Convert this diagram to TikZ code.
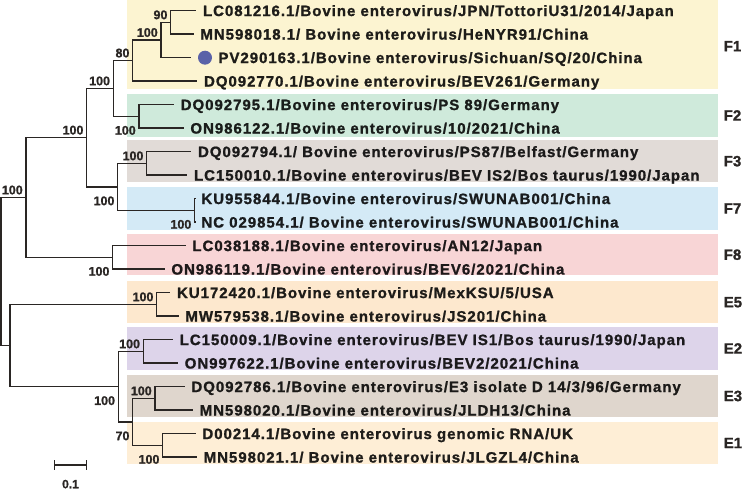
\documentclass[tikz,border=0pt]{standalone}
\usepackage{fontspec}
\setmainfont{Liberation Sans}[BoldFeatures={FakeBold=1.2}]
\newfontfamily\leaffont{Liberation Sans}[LetterSpace=6.5, BoldFeatures={FakeBold=1.2}]
\usetikzlibrary{positioning}

\definecolor{cF1}{HTML}{FCF4D1}
\definecolor{cF2}{HTML}{CFEADB}
\definecolor{cF3}{HTML}{E1DBD7}
\definecolor{cF7}{HTML}{D4EAF6}
\definecolor{cF8}{HTML}{F8D5D6}
\definecolor{cE5}{HTML}{FDE8CE}
\definecolor{cE2}{HTML}{DDD4EA}
\definecolor{cE3}{HTML}{DFD6CD}
\definecolor{cE1}{HTML}{FEEED6}
\definecolor{branch}{HTML}{2A2624}
\definecolor{dotblue}{HTML}{5A62A8}

\tikzset{
  leaflab/.style={font=\leaffont\bfseries\fontsize{15}{18}\selectfont, anchor=west,
    inner sep=0pt, text height=10.7pt, text depth=0pt, text=#1!12!black},
  boot/.style={font=\bfseries\fontsize{12.5}{15}\selectfont, anchor=south east,
    inner sep=2.5pt, text height=9pt, text depth=0pt, text=branch},
  bootlow/.style={boot, anchor=north east, yshift=-6pt},
  clade/.style={font=\bfseries\fontsize{15}{18}\selectfont, anchor=west,
    inner sep=0pt, text height=10.7pt, text depth=0pt, text=branch},
}

\begin{document}
\begin{tikzpicture}[x=1pt, y=-1pt, line width=1.5pt]
  \useasboundingbox (0,0) rectangle (743,492);
  % coloured bands and genotype labels
  \foreach \g/\top/\bot/\mid in {F1/0/89.5/46, F2/94/136.5/115.3, F3/140/182/161,
      F7/187/229.5/208.3, F8/234/275/254.5, E5/281/323/302, E2/327/369.5/348.3,
      E3/375/416.5/395.8, E1/422/463.5/442.8} {
    \fill[c\g] (127,\top) rectangle (718,\bot);
    \node[clade] (lab\g) at (723,\mid) {\g};
  }
  % taxa
  \node[leaflab=cF1] (t1) at (202.3,10.7) {LC081216.1/Bovine enterovirus/JPN/TottoriU31/2014/Japan};
  \node[leaflab=cF1] (t2) at (199.7,34.2) {MN598018.1/ Bovine enterovirus/HeNYR91/China};
  \node[circle, fill=dotblue, minimum size=14pt, inner sep=0pt] (dot) at (205,57.7) {};
  \node[leaflab=cF1, right=5pt of dot] (t3) {PV290163.1/Bovine enterovirus/Sichuan/SQ/20/China};
  \node[leaflab=cF1] (t4) at (203.3,81.2) {DQ092770.1/Bovine enterovirus/BEV261/Germany};
  \node[leaflab=cF2] (t5) at (180,104.7) {DQ092795.1/Bovine enterovirus/PS 89/Germany};
  \node[leaflab=cF2] (t6) at (189.7,128.2) {ON986122.1/Bovine enterovirus/10/2021/China};
  \node[leaflab=cF3] (t7) at (197.3,151.7) {DQ092794.1/ Bovine enterovirus/PS87/Belfast/Germany};
  \node[leaflab=cF3] (t8) at (193.3,175.2) {LC150010.1/Bovine enterovirus/BEV IS2/Bos taurus/1990/Japan};
  \node[leaflab=cF7] (t9) at (200.7,198.7) {KU955844.1/Bovine enterovirus/SWUNAB001/China};
  \node[leaflab=cF7] (t10) at (200.7,222.2) {NC 029854.1/ Bovine enterovirus/SWUNAB001/China};
  \node[leaflab=cF8] (t11) at (191.7,245.7) {LC038188.1/Bovine enterovirus/AN12/Japan};
  \node[leaflab=cF8] (t12) at (170.7,269.2) {ON986119.1/Bovine enterovirus/BEV6/2021/China};
  \node[leaflab=cE5] (t13) at (176.3,292.7) {KU172420.1/Bovine enterovirus/MexKSU/5/USA};
  \node[leaflab=cE5] (t14) at (184.7,316.2) {MW579538.1/Bovine enterovirus/JS201/China};
  \node[leaflab=cE2] (t15) at (179,339.7) {LC150009.1/Bovine enterovirus/BEV IS1/Bos taurus/1990/Japan};
  \node[leaflab=cE2] (t16) at (184,363.2) {ON997622.1/Bovine enterovirus/BEV2/2021/China};
  \node[leaflab=cE3] (t17) at (190.7,386.7) {DQ092786.1/Bovine enterovirus/E3 isolate D 14/3/96/Germany};
  \node[leaflab=cE3] (t18) at (199,410.2) {MN598020.1/Bovine enterovirus/JLDH13/China};
  \node[leaflab=cE1] (t19) at (201.7,433.7) {D00214.1/Bovine enterovirus genomic RNA/UK};
  \node[leaflab=cE1] (t20) at (203,457.2) {MN598021.1/ Bovine enterovirus/JLGZL4/China};
  % internal nodes
  \coordinate (root) at (1,271.6);
  \coordinate (nG) at (26,197.6);
  \coordinate (nF) at (86.7,137.7);
  \coordinate (nE) at (113.3,88.5);
  \coordinate (nC) at (132.7,60.6);
  \coordinate (nB) at (161,40.1);
  \coordinate (nA) at (170.7,22.45);
  \coordinate (nD) at (139,116.45);
  \coordinate (nH) at (117.7,186.95);
  \coordinate (nF3) at (146.7,163.45);
  \coordinate (nF7) at (194.6,210.45);
  \coordinate (nF8) at (112.7,257.45);
  \coordinate (nK) at (10,345.6);
  \coordinate (nE5) at (156.7,304.45);
  \coordinate (nL) at (118.3,386.7);
  \coordinate (nE2) at (143.3,351.45);
  \coordinate (nM) at (132.7,421.95);
  \coordinate (nE3) at (155,398.45);
  \coordinate (nE1) at (162.7,445.45);
  % branches
  \foreach \p/\c in {root/nG, root/nK, nG/nF, nG/nF8, nF/nE, nF/nH, nE/nC, nE/nD,
      nC/nB, nB/nA, nH/nF3, nH/nF7, nK/nE5, nK/nL, nL/nE2, nL/nM, nM/nE3, nM/nE1}
    \draw[branch] (\p) |- (\c);
  \foreach \p/\c in {nA/t1, nA/t2, nB/dot, nC/t4, nD/t5, nD/t6, nF3/t7, nF3/t8,
      nF7/t9, nF7/t10, nF8/t11, nF8/t12, nE5/t13, nE5/t14, nE2/t15, nE2/t16,
      nE3/t17, nE3/t18, nE1/t19, nE1/t20}
    \draw[branch] (\p) |- ([xshift=-6pt]\c.west);
  % bootstrap values
  \node[boot] (bA) at (nA) {90};
  \node[boot] (bB) at (nB) {100};
  \node[boot] (bC) at (nC) {80};
  \node[boot] (bE) at (nE) {100};
  \node[bootlow] (bD) at (nD) {100};
  \node[boot] (bF) at (nF) {100};
  \node[boot] (bG) at (nG) {100};
  \node[bootlow] (bH) at (nH) {100};
  \node[boot] (bF3) at (nF3) {100};
  \node[bootlow] (bF7) at (nF7) {100};
  \node[bootlow] (bF8) at (nF8) {100};
  \node[boot] (bE5) at (nE5) {100};
  \node[boot] (bE2) at (nE2) {100};
  \node[bootlow] (bL) at (nL) {100};
  \node[bootlow] (bM) at (nM) {70};
  \node[boot] (bE3) at (nE3) {100};
  \node[bootlow] (bE1) at (nE1) {100};
  % scale bar
  \coordinate (sL) at (54.3,465);
  \coordinate (sR) at (86.7,465);
  \draw[branch, line width=1.2pt] (sL) -- (sR);
  \draw[branch, line width=1.2pt] ([yshift=5pt]sL) -- ([yshift=-5pt]sL);
  \draw[branch, line width=1.2pt] ([yshift=5pt]sR) -- ([yshift=-5pt]sR);
  \node[boot, anchor=north, font=\bfseries\fontsize{12}{14}\selectfont] (scale) at (70.5,476) {0.1};
\end{tikzpicture}
\end{document}
